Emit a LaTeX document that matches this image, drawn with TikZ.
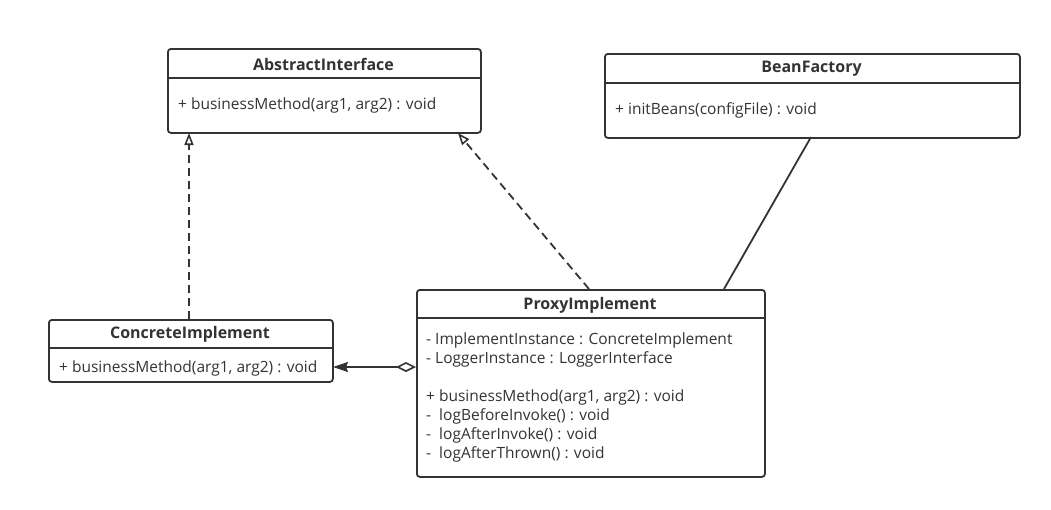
\documentclass[tikz,border=0pt]{standalone}
\usepackage{fontspec}
\setmainfont{Open Sans}
\usetikzlibrary{arrows.meta}
\definecolor{ink}{HTML}{333333}
\begin{document}
\begin{tikzpicture}[x=1pt,y=-1pt,
  box/.style={draw=ink, line width=1.8pt, rounded corners=3pt, anchor=north west, inner sep=0pt},
  sep/.style={draw=ink, line width=1.8pt},
  title/.style={font=\fontsize{16}{18}\selectfont\bfseries, text=ink, inner sep=0pt},
  member/.style={font=\fontsize{15.5}{18}\selectfont, text=ink, inner sep=0pt, anchor=west},
  conn/.style={draw=ink, line width=1.8pt},
  dashedconn/.style={conn, dash pattern=on 8pt off 5pt},
  realize/.style={-{Triangle[open,length=12pt,width=9pt,line width=1.6pt]}}
]
\useasboundingbox (0,0) rectangle (1051,509);

% AbstractInterface
\node[box, minimum width=313pt, minimum height=84pt] (ai) at (167,48) {};
\draw[sep] (167,78) -- (480,78);
\node[title] (ait) at (323.5,64) {AbstractInterface};
\node[member] (aim) at (178,105) {+ businessMethod(arg1, arg2) : void};

% BeanFactory
\node[box, minimum width=415pt, minimum height=84pt] (bf) at (604,53) {};
\draw[sep] (604,83) -- (1019,83);
\node[title] (bft) at (811.5,69) {BeanFactory};
\node[member] (bfm) at (615,110) {+ initBeans(configFile) : void};

% ConcreteImplement
\node[box, minimum width=284pt, minimum height=62pt] (ci) at (48,319) {};
\draw[sep] (48,348) -- (332,348);
\node[title] (cit) at (190,334) {ConcreteImplement};
\node[member] (cim) at (59,368) {+ businessMethod(arg1, arg2) : void};

% ProxyImplement
\node[box, minimum width=348pt, minimum height=187pt] (pi) at (416,289) {};
\draw[sep] (416,318) -- (764,318);
\node[title] (pit) at (590,305) {ProxyImplement};
\node[member] (pa1) at (426,340) {- ImplementInstance : ConcreteImplement};
\node[member] (pa2) at (426,359) {- LoggerInstance : LoggerInterface};
\node[member] (pm1) at (426,397) {+ businessMethod(arg1, arg2) : void};
\node[member] (pm2) at (426,416) {-\ \ logBeforeInvoke() : void};
\node[member] (pm3) at (426,435) {-\ \ logAfterInvoke() : void};
\node[member] (pm4) at (426,454) {-\ \ logAfterThrown() : void};

% connectors
\coordinate (ciTop) at (189,319);
\coordinate (aiBotL) at (189,133);
\draw[dashedconn, realize] (ciTop) -- (aiBotL);

\coordinate (piTop) at (589,289);
\coordinate (aiBotR) at (458,133);
\draw[dashedconn, realize] (piTop) -- (aiBotR);

\coordinate (bfBot) at (811,137);
\coordinate (piTopR) at (724,289);
\draw[conn] (bfBot) -- (piTopR);

\coordinate (piLeft) at (416,367);
\coordinate (ciRight) at (333,367);
\draw[conn, {Diamond[open,length=20pt,width=10pt,line width=1.6pt]}-{Stealth[length=15pt,width=10pt,inset=2pt]}] (piLeft) -- (ciRight);
\end{tikzpicture}
\end{document}
